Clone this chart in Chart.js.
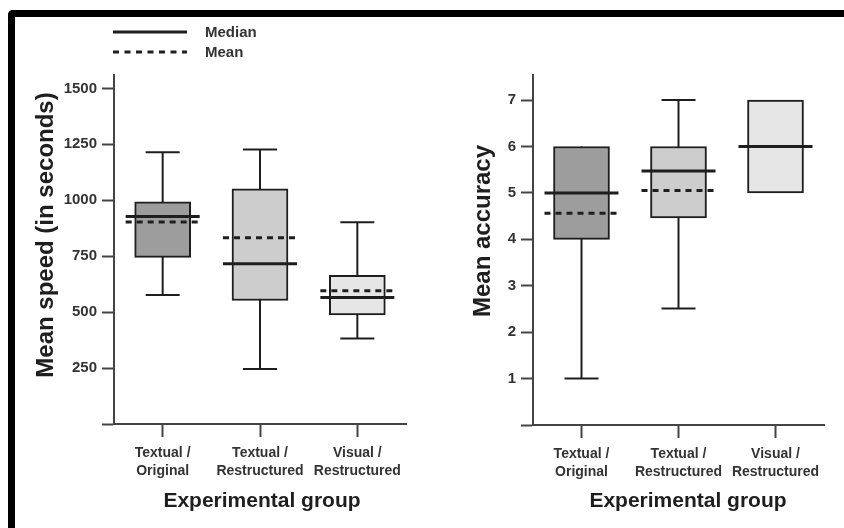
<!DOCTYPE html>
<html>
<head>
<meta charset="utf-8">
<script src="https://cdn.jsdelivr.net/npm/chart.js@4.4.1/dist/chart.umd.min.js"></script>
<style>
  html, body { margin: 0; padding: 0; background: #fff; overflow: hidden; }
  body { width: 844px; height: 528px; position: relative; }
  #frame {
    position: absolute; left: 8px; top: 10px; width: 900px; height: 600px;
    border-left: 7px solid #000; border-top: 7px solid #000;
    border-top-left-radius: 5px; box-sizing: border-box;
  }
  #speedWrap { position: absolute; left: 0; top: 0; width: 430px; height: 528px; }
  #accWrap { position: absolute; left: 430px; top: 0; width: 414px; height: 528px; }
</style>
</head>
<body>
<div id="frame"></div>
<div id="speedWrap"><canvas id="speedChart"></canvas></div>
<div id="accWrap"><canvas id="accChart"></canvas></div>
<script>
// categories
const groups = [['Textual /', 'Original'], ['Textual /', 'Restructured'], ['Visual /', 'Restructured']];
const boxColors = ['#9d9d9d', '#cdcdcd', '#e6e6e6'];

// mean speed (in seconds)
const speedMin = [577, 246, 382];
const speedQ1 = [745, 552, 488];
const speedMedian = [928, 716, 566];
const speedQ3 = [993, 1051, 665];
const speedMax = [1215, 1227, 902];
const speedMean = [903, 833, 596];
const speedTicks = [0, 250, 500, 750, 1000, 1250, 1500];

// mean accuracy
const accMin = [1, 2.51, 5];
const accQ1 = [4, 4.46, 5];
const accMedian = [5, 5.47, 6];
const accQ3 = [6, 6, 7];
const accMax = [6, 7, 7];
const accMean = [4.56, 5.05, null];
const accTicks = [0, 1, 2, 3, 4, 5, 6, 7];

const FONT = '"Liberation Sans", Arial, Helvetica, sans-serif';
const INK = '#1e1e1e';
const AXIS = '#444';
const TEXT = '#333';

// whiskers, caps, median/mean lines + titles
function makeBoxDecor(stats, titles, withLegend) {
    return {
        id: 'boxDecor',
        beforeDatasetsDraw(chart) {
            const { ctx, scales: { x, y } } = chart;
            ctx.save();
            ctx.strokeStyle = INK;
            ctx.lineWidth = 2;
            stats.min.forEach((v, i) => {
                const cx = x.getPixelForValue(i);
                ctx.beginPath();
                ctx.moveTo(cx, y.getPixelForValue(stats.min[i]));
                ctx.lineTo(cx, y.getPixelForValue(stats.max[i]));
                ctx.stroke();
            });
            ctx.restore();
        },
        afterDatasetsDraw(chart) {
            const { ctx, scales: { x, y } } = chart;
            ctx.save();
            ctx.strokeStyle = INK;
            for (let i = 0; i < stats.min.length; i++) {
                const cx = x.getPixelForValue(i);
                // caps
                ctx.lineWidth = 2;
                ctx.setLineDash([]);
                [stats.min[i], stats.max[i]].forEach((v) => {
                    if (v === stats.q1[i] || v === stats.q3[i]) return;
                    const py = y.getPixelForValue(v);
                    ctx.beginPath();
                    ctx.moveTo(cx - 17, py);
                    ctx.lineTo(cx + 17, py);
                    ctx.stroke();
                });
                // mean (dashed)
                ctx.lineWidth = 3;
                if (stats.mean[i] !== null) {
                    const my = y.getPixelForValue(stats.mean[i]);
                    ctx.setLineDash([6, 5]);
                    ctx.beginPath();
                    ctx.moveTo(cx - 37, my);
                    ctx.lineTo(cx + 37, my);
                    ctx.stroke();
                }
                // median (solid)
                const md = y.getPixelForValue(stats.median[i]);
                ctx.setLineDash([]);
                ctx.beginPath();
                ctx.moveTo(cx - 37, md);
                ctx.lineTo(cx + 37, md);
                ctx.stroke();
            }
            ctx.restore();
        },
        afterDraw(chart) {
            const { ctx } = chart;
            ctx.save();
            ctx.fillStyle = INK;
            // y title
            ctx.font = 'bold 24px ' + FONT;
            ctx.textAlign = 'center';
            ctx.textBaseline = 'middle';
            ctx.translate(titles.yX, titles.yY);
            ctx.rotate(-Math.PI / 2);
            ctx.fillText(titles.y, 0, 0);
            ctx.setTransform(1, 0, 0, 1, 0, 0);
            // x title
            ctx.font = 'bold 21px ' + FONT;
            ctx.textBaseline = 'alphabetic';
            ctx.fillText(titles.x, titles.xX, titles.xY);

            if (withLegend) {
                ctx.strokeStyle = INK;
                ctx.lineWidth = 3;
                ctx.beginPath();
                ctx.moveTo(113, 32);
                ctx.lineTo(187, 32);
                ctx.stroke();
                ctx.setLineDash([6, 5.5]);
                ctx.beginPath();
                ctx.moveTo(113, 52);
                ctx.lineTo(187, 52);
                ctx.stroke();
                ctx.setLineDash([]);
                ctx.fillStyle = TEXT;
                ctx.font = 'bold 15px ' + FONT;
                ctx.textAlign = 'left';
                ctx.fillText('Median', 205, 37);
                ctx.fillText('Mean', 205, 57);
            }
            ctx.restore();
        },
    };
}

function boxChart(canvasId, stats, ticks, yMax, axisWidth, axisHeight, padRight, titles, withLegend) {
    return new Chart(document.getElementById(canvasId), {
        type: 'bar',
        data: {
            labels: groups,
            datasets: [{
                data: stats.q1.map((q, i) => [q, stats.q3[i]]),
                backgroundColor: boxColors,
                borderColor: INK,
                borderWidth: 2,
                borderSkipped: false,
                barThickness: 56,
            }],
        },
        options: {
            responsive: true,
            maintainAspectRatio: false,
            animation: false,
            events: [],
            layout: { padding: { top: 75, right: padRight, left: 0, bottom: 0 } },
            plugins: { legend: { display: false }, tooltip: { enabled: false } },
            scales: {
                x: {
                    offset: true,
                    afterFit: (s) => { s.height = axisHeight; },
                    grid: { offset: false, drawOnChartArea: false, tickLength: 13, tickWidth: 2, tickColor: AXIS },
                    border: { color: AXIS, width: 2 },
                    ticks: {
                        color: TEXT, padding: 7, maxRotation: 0, autoSkip: false,
                        font: { family: FONT, size: 14, weight: 'bold', lineHeight: 1.3 },
                    },
                },
                y: {
                    min: 0,
                    max: yMax,
                    afterFit: (s) => { s.width = axisWidth; },
                    afterBuildTicks: (axis) => { axis.ticks = ticks.map((v) => ({ value: v })); },
                    grid: { drawOnChartArea: false, tickLength: 12, tickWidth: 2, tickColor: AXIS },
                    border: { color: AXIS, width: 2 },
                    ticks: {
                        color: TEXT, padding: 5,
                        font: { family: FONT, size: 15, weight: 'bold' },
                        callback: (v) => (v === 0 ? '' : v),
                    },
                },
            },
        },
        plugins: [makeBoxDecor(stats, titles, withLegend)],
    });
}

boxChart('speedChart',
    { min: speedMin, q1: speedQ1, median: speedMedian, q3: speedQ3, max: speedMax, mean: speedMean },
    speedTicks, 1560, 114, 104, 24,
    { y: 'Mean speed (in seconds)', yX: 46, yY: 235, x: 'Experimental group', xX: 262, xY: 507 },
    true);

boxChart('accChart',
    { min: accMin, q1: accQ1, median: accMedian, q3: accQ3, max: accMax, mean: accMean },
    accTicks, 7.54, 103, 103, 20,
    { y: 'Mean accuracy', yX: 53, yY: 231, x: 'Experimental group', xX: 258, xY: 507 },
    false);
</script>
</body>
</html>
